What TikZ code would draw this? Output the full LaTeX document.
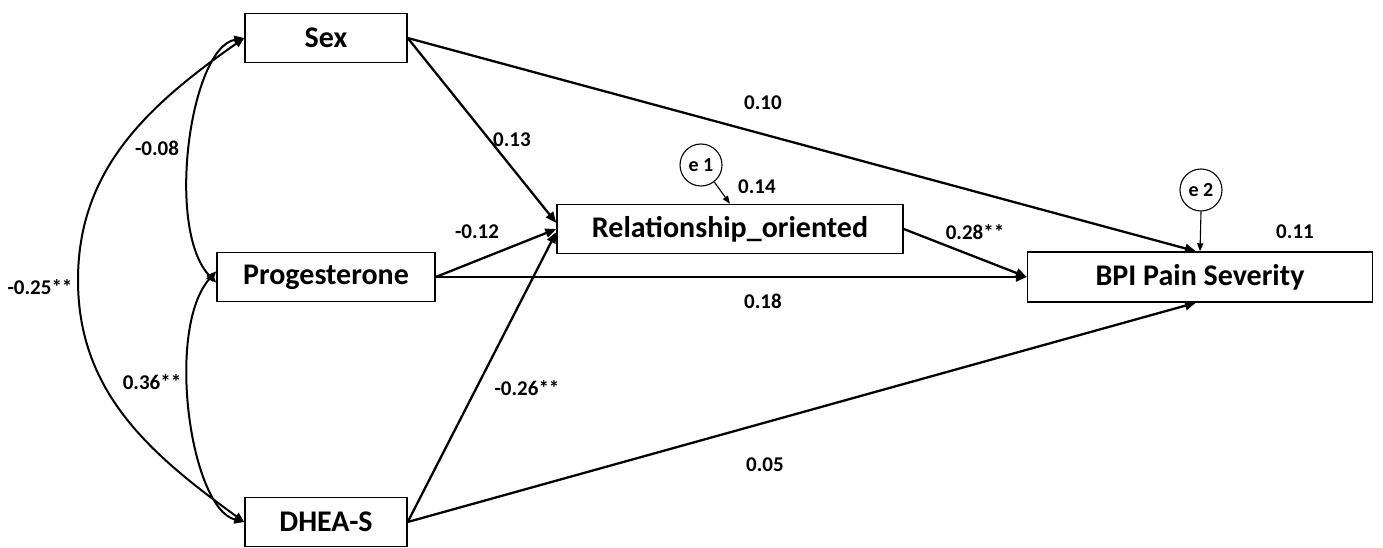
\documentclass[tikz,border=0pt]{standalone}
\usepackage{fontspec}
\setmainfont{Carlito}
\usetikzlibrary{arrows.meta}
\begin{document}
\begin{tikzpicture}[x=1pt,y=-1pt,
  box/.style={draw, line width=1.4pt, minimum height=49pt, inner sep=0pt, font=\fontsize{30}{32}\selectfont\bfseries},
  err/.style={draw, circle, line width=1.1pt, minimum size=42pt, inner sep=0pt, font=\fontsize{20}{22}\selectfont\bfseries},
  lbl/.style={font=\fontsize{21}{23}\selectfont\bfseries, inner sep=0pt},
  arr/.style={line width=2.3pt, -{Triangle[length=11pt,width=9pt]}},
  cov/.style={line width=2pt, {Triangle[length=10pt,width=8pt]}-{Triangle[length=10pt,width=8pt]}},
  earr/.style={line width=1.1pt, -{Triangle[length=8pt,width=6pt]}}
]
\useasboundingbox (0,0) rectangle (1383,548);

% boxes
\node[box, minimum width=162pt] (sex) at (326,38) {Sex};
\node[box, minimum width=218pt] (prog) at (326,277) {Progesterone};
\node[box, minimum width=162pt] (dhea) at (326,522) {DHEA-S};
\node[box, minimum width=346pt] (rel) at (730,229) {Relationship\_oriented};
\node[box, minimum width=345pt, minimum height=50pt] (bpi) at (1200,277) {BPI Pain Severity};

% error terms
\node[err] (e1) at (701,165) {e 1};
\node[err] (e2) at (1201,190) {e 2};

% covariances
\draw[cov] (sex.west) .. controls (190,48) and (165,230) .. (prog.183);
\draw[cov] (prog.177) .. controls (165,328) and (190,508) .. (dhea.west);
\draw[cov] (sex.west) .. controls (147,106) and (78,170) .. (78,280)
           .. controls (78,390) and (147,452) .. (dhea.west);

% paths
\draw[arr] (sex.east) -- (bpi.99);
\draw[arr] (sex.east) -- (rel.178);
\draw[arr] (prog.east) -- (rel.west);
\draw[arr] (prog.east) -- (bpi.west);
\draw[arr] (dhea.east) -- (rel.181);
\draw[arr] (dhea.east) -- (bpi.261);
\draw[arr] (rel.east) -- (bpi.west);
\draw[earr] (e1.-52) -- (rel.north);
\draw[earr] (e2.south) -- (bpi.north);

% labels
\node[lbl] (l1) at (763,103) {0.10};
\node[lbl] (l2) at (512,140) {0.13};
\node[lbl] (l3) at (757,187) {0.14};
\node[lbl] (l4) at (477,232) {-0.12};
\node[lbl] (l5) at (975,232) {0.28**};
\node[lbl] (l6) at (1295,232) {0.11};
\node[lbl] (l7) at (763,301) {0.18};
\node[lbl] (l8) at (527,388) {-0.26**};
\node[lbl] (l9) at (765,465) {0.05};
\node[lbl] (l10) at (157,148) {-0.08};
\node[lbl] (l11) at (40,287) {-0.25**};
\node[lbl] (l12) at (152,382) {0.36**};
\end{tikzpicture}
\end{document}
